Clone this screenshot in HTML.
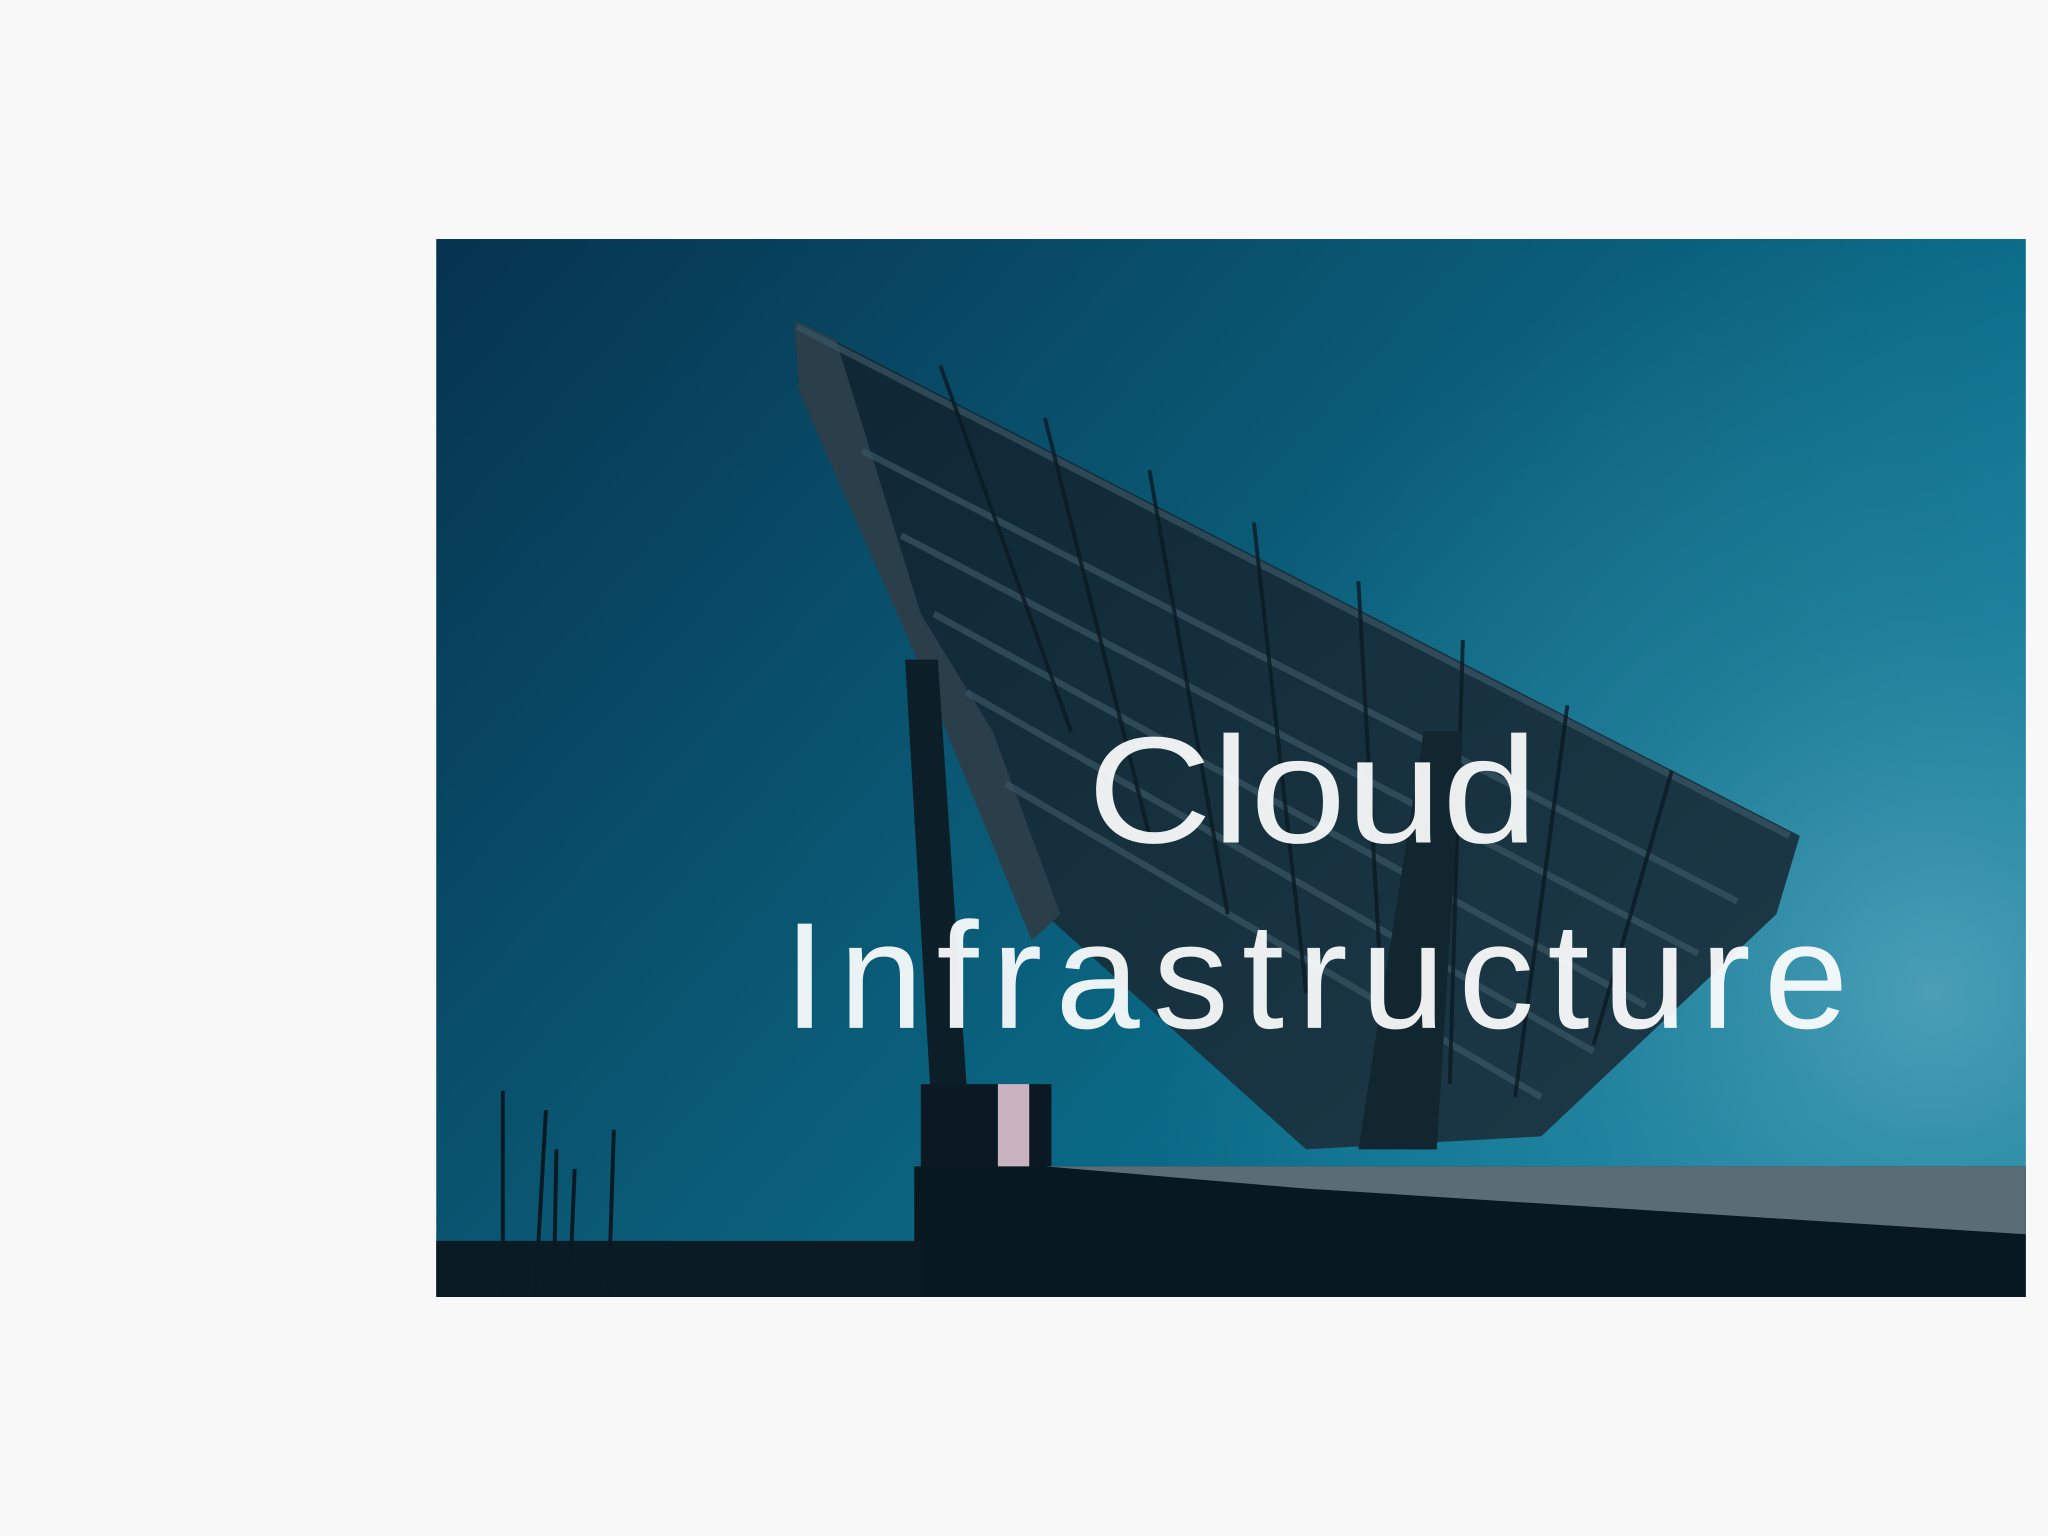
<!DOCTYPE html>
<html><head><meta charset="utf-8"><style>
html,body{margin:0;padding:0;background:#f8f8f8;width:2048px;height:1536px;overflow:hidden}
svg{display:block}
</style></head><body>
<svg width="2048" height="1536" viewBox="0 0 1568 1176" xmlns="http://www.w3.org/2000/svg">
<defs>
<linearGradient id="sky" x1="0" y1="0" x2="1" y2="0.6">
<stop offset="0" stop-color="#06334f"/>
<stop offset="0.5" stop-color="#0a5a76"/>
<stop offset="1" stop-color="#0b7f9c"/>
</linearGradient>
<radialGradient id="glow" cx="1480" cy="760" r="600" gradientUnits="userSpaceOnUse">
<stop offset="0" stop-color="#5aa6bd" stop-opacity="0.8"/>
<stop offset="0.5" stop-color="#3a8ea8" stop-opacity="0.4"/>
<stop offset="1" stop-color="#3a8ea8" stop-opacity="0"/>
</radialGradient>
<linearGradient id="panel" x1="0" y1="0" x2="1" y2="1">
<stop offset="0" stop-color="#0f2633"/>
<stop offset="1" stop-color="#1d3a48"/>
</linearGradient>
</defs>
<rect width="1568" height="1176" fill="#f8f8f8"/>
<rect x="334" y="183" width="1217" height="810" fill="url(#sky)"/>
<rect x="334" y="183" width="1217" height="810" fill="url(#glow)"/>
<polygon points="608,245 1378,640 1360,700 1180,870 1000,880 800,700 700,480 612,300" fill="url(#panel)"/>
<polygon points="608,245 640,260 705,470 760,560 812,700 790,720 700,500 612,300" fill="#2a3f4a"/>
<g stroke="#3a5563" stroke-width="5" opacity="0.7">
<line x1="660" y1="345" x2="1330" y2="690"/>
<line x1="690" y1="410" x2="1300" y2="730"/>
<line x1="715" y1="470" x2="1260" y2="770"/>
<line x1="740" y1="530" x2="1220" y2="805"/>
<line x1="770" y1="600" x2="1180" y2="840"/>
<line x1="610" y1="250" x2="1370" y2="640"/>
</g>
<g stroke="#0b1a22" stroke-width="3" opacity="0.8">
<line x1="720" y1="280" x2="820" y2="560"/>
<line x1="800" y1="320" x2="880" y2="640"/>
<line x1="880" y1="360" x2="940" y2="700"/>
<line x1="960" y1="400" x2="1000" y2="760"/>
<line x1="1040" y1="445" x2="1060" y2="800"/>
<line x1="1120" y1="490" x2="1110" y2="830"/>
<line x1="1200" y1="540" x2="1160" y2="840"/>
<line x1="1280" y1="590" x2="1220" y2="800"/>
</g>
<polygon points="693,505 718,505 740,830 712,830" fill="#0c1f29"/>
<polygon points="1090,560 1120,560 1100,880 1040,880" fill="#12262f"/>
<rect x="705" y="830" width="100" height="163" fill="#0b1a22"/>
<rect x="764" y="830" width="24" height="78" fill="#c9b3c0"/>
<polygon points="700,893 1551,893 1551,993 700,993" fill="#081820"/>
<polygon points="800,893 1551,893 1551,945 1000,910" fill="#5b6d74"/>
<polygon points="334,950 705,950 705,993 334,993" fill="#0b1b23"/>
<g stroke="#0b1a22" stroke-width="3">
<line x1="385" y1="835" x2="385" y2="990"/><line x1="418" y1="850" x2="410" y2="990"/>
<line x1="426" y1="880" x2="424" y2="990"/><line x1="470" y1="865" x2="466" y2="990"/>
<line x1="440" y1="895" x2="436" y2="990"/>
</g>
<g fill="#ffffff" fill-opacity="0.92" font-family="Liberation Sans, sans-serif" font-size="116">
<text x="1005" y="645" text-anchor="middle" textLength="345" lengthAdjust="spacingAndGlyphs">Cloud</text>
<text x="600" y="787" textLength="815" lengthAdjust="spacing">Infrastructure</text>
</g>
</svg>
</body></html>
